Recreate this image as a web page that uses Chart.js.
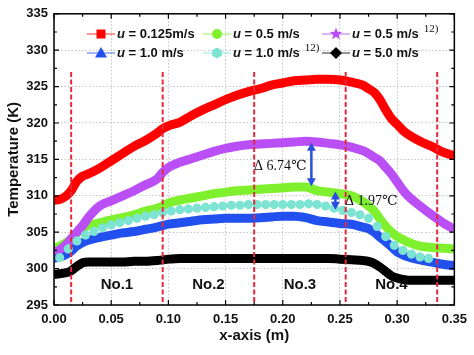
<!DOCTYPE html>
<html><head><meta charset="utf-8">
<script src="https://cdn.jsdelivr.net/npm/chart.js@4"></script>
<style>html,body{margin:0;padding:0;background:#fff}#wrap{width:474px;height:355px;position:relative}</style>
</head><body><div id="wrap"><canvas id="c" width="474" height="355"></canvas></div>
<script>
// ---- data ----
const xGrid = [0,0.005,0.01,0.015,0.02,0.025,0.03,0.04,0.05,0.06,0.07,0.08,0.09,0.095,0.10,0.11,0.12,0.13,0.14,0.15,0.16,0.17,0.18,0.19,0.20,0.21,0.22,0.23,0.24,0.25,0.26,0.27,0.275,0.28,0.285,0.29,0.295,0.30,0.305,0.31,0.32,0.33,0.34,0.35];
const u0125 = [309.4,309.5,309.9,310.7,312.0,312.7,313.0,313.8,314.8,315.8,316.8,317.6,318.6,319.2,319.6,320.1,321.0,321.8,322.5,323.2,323.8,324.3,324.7,325.2,325.5,325.8,325.9,326.0,326.0,325.9,325.6,325.2,324.7,324.2,323.2,321.8,320.6,319.8,319.0,318.4,317.5,316.8,316.0,315.5];
const u05ref = [302.2,302.6,303.2,304.1,305.0,305.9,307.0,308.6,309.3,310.0,310.7,311.5,312.3,313.2,313.9,314.6,315.1,315.6,316.1,316.5,316.8,317.0,317.1,317.2,317.3,317.4,317.5,317.4,317.2,317.0,316.7,316.2,315.8,315.3,314.8,313.9,313.0,311.9,310.8,309.9,308.6,307.4,306.3,305.4];
const u05 = [302.8,303.1,303.5,304.1,304.9,305.5,305.9,306.3,306.7,307.0,307.4,307.9,308.3,308.6,309.0,309.4,309.7,310.0,310.3,310.5,310.7,310.8,310.9,311.0,311.1,311.2,311.2,310.7,310.5,310.3,310.0,309.2,308.6,307.9,306.8,305.8,305.0,304.4,304.0,303.6,303.1,302.9,302.8,302.7];
const u10 = [301.4,301.6,301.9,302.4,303.1,303.6,303.9,304.3,304.6,304.9,305.1,305.4,305.7,305.9,306.1,306.3,306.5,306.7,306.8,306.9,306.9,306.9,307.0,307.1,307.2,307.2,307.0,306.6,306.4,306.2,306.1,305.7,305.5,305.0,304.3,303.7,303.0,302.3,301.9,301.6,301.2,300.9,300.6,300.4];
const u50 = [299.2,299.3,299.4,299.7,300.3,300.8,300.9,300.9,300.9,300.9,301.0,301.0,301.1,301.2,301.3,301.4,301.4,301.4,301.4,301.4,301.4,301.4,301.4,301.4,301.4,301.4,301.4,301.4,301.4,301.3,301.2,301.1,301.0,300.7,300.2,299.6,299.0,298.7,298.5,298.4,298.4,298.4,298.4,298.4];
const cyanX = [0.005,0.0125,0.02,0.0275,0.035,0.0425,0.05,0.0575,0.065,0.0725,0.08,0.0875,0.095,0.1025,0.11,0.1175,0.125,0.1325,0.14,0.1475,0.155,0.1625,0.17,0.1775,0.185,0.1925,0.2,0.2075,0.215,0.2225,0.23,0.2375,0.245,0.2525,0.26,0.2675,0.275,0.2825,0.29,0.2975,0.305,0.3125,0.32,0.3275];
const u10ref = [301.5,302.7,303.8,304.6,305.1,305.6,306.0,306.3,306.6,306.9,307.2,307.4,307.7,307.9,308.1,308.2,308.3,308.4,308.5,308.6,308.7,308.7,308.8,308.8,308.8,308.8,308.8,308.8,308.8,308.9,308.8,308.6,308.3,308.0,307.7,307.4,306.9,305.8,304.4,303.2,302.5,302.0,301.6,301.4];
const xTicks = [0,0.05,0.10,0.15,0.20,0.25,0.30,0.35];
const yTicks = [295,300,305,310,315,320,325,330,335];
const zoneLines = [0.015,0.095,0.175,0.255,0.335];
const zoneLabels = ['No.1','No.2','No.3','No.4'];
const zoneLabelX = [0.055,0.135,0.215,0.295];
const legendItems = [
  {text:' = 0.125m/s', sup:'', color:'#ff0000', marker:'square'},
  {text:' = 0.5 m/s', sup:'', color:'#7ff02e', marker:'circle'},
  {text:' = 0.5 m/s', sup:'12)', color:'#b94ff5', marker:'star'},
  {text:' = 1.0 m/s', sup:'', color:'#2150ee', marker:'triangle'},
  {text:' = 1.0 m/s', sup:'12)', color:'#7de3d3', marker:'hex'},
  {text:' = 5.0 m/s', sup:'', color:'#000000', marker:'diamond'}
];
const deltas = [
  {x:0.225, from:317.3, to:311.3, label:'Δ 6.74℃', lx:0.1748, ly:314.0},
  {x:0.246, from:310.6, to:308.1, label:'Δ 1.97℃', lx:0.2545, ly:309.3}
];

const pts = (xs, ys) => xs.map((x,i)=>({x:x, y:ys[i]}));
const SANS = '"Liberation Sans", Arial, sans-serif';
const SERIF = '"Liberation Serif", "DejaVu Serif", "Noto Sans CJK SC", serif';

function lineDs(label, ys, color, order){
  return {label, data: pts(xGrid, ys), borderColor: color, backgroundColor: color,
    borderWidth: 9, pointRadius: 0, showLine: true, fill: false,
    cubicInterpolationMode: 'monotone', order};
}

function drawMarker(ctx, type, x, y, color){
  ctx.save(); ctx.fillStyle = color; ctx.beginPath();
  if (type==='square'){ ctx.rect(x-4.5,y-4.5,9,9); }
  else if (type==='circle'){ ctx.arc(x,y,5,0,Math.PI*2); }
  else if (type==='triangle'){ ctx.moveTo(x,y-6); ctx.lineTo(x+6,y+4.5); ctx.lineTo(x-6,y+4.5); ctx.closePath(); }
  else if (type==='diamond'){ ctx.moveTo(x,y-6); ctx.lineTo(x+6,y); ctx.lineTo(x,y+6); ctx.lineTo(x-6,y); ctx.closePath(); }
  else if (type==='hex'){ for(let k=0;k<6;k++){const a=Math.PI/6+k*Math.PI/3; const px=x+5.5*Math.cos(a), py=y+5.5*Math.sin(a); k?ctx.lineTo(px,py):ctx.moveTo(px,py);} ctx.closePath(); }
  else if (type==='star'){ for(let k=0;k<10;k++){const r=k%2?2.8:6.5; const a=-Math.PI/2+k*Math.PI/5; const px=x+r*Math.cos(a), py=y+r*Math.sin(a); k?ctx.lineTo(px,py):ctx.moveTo(px,py);} ctx.closePath(); }
  ctx.fill(); ctx.restore();
}

const overlay = {
  id: 'overlay',
  afterDatasetsDraw(chart){
    const ctx = chart.ctx, xs = chart.scales.x, ys = chart.scales.y, ca = chart.chartArea;
    ctx.save();
    // dashed zone lines
    ctx.strokeStyle = '#e8283c'; ctx.lineWidth = 2; ctx.setLineDash([5,2.5]);
    zoneLines.forEach(v=>{ const px = xs.getPixelForValue(v);
      ctx.beginPath(); ctx.moveTo(px, ys.getPixelForValue(327)); ctx.lineTo(px, ca.bottom); ctx.stroke(); });
    ctx.setLineDash([]);
    // zone labels
    ctx.fillStyle = '#111'; ctx.font = 'bold 15px ' + SANS; ctx.textAlign = 'center'; ctx.textBaseline = 'middle';
    zoneLabels.forEach((t,i)=> ctx.fillText(t, xs.getPixelForValue(zoneLabelX[i]), ys.getPixelForValue(297.8)));
    // delta arrows
    ctx.strokeStyle = '#2a4fe0'; ctx.fillStyle = '#2a4fe0'; ctx.lineWidth = 2.5;
    deltas.forEach(d=>{
      const px = xs.getPixelForValue(d.x), y1 = ys.getPixelForValue(d.from), y2 = ys.getPixelForValue(d.to);
      ctx.beginPath(); ctx.moveTo(px, y1+6); ctx.lineTo(px, y2-6); ctx.stroke();
      ctx.beginPath(); ctx.moveTo(px, y1); ctx.lineTo(px+4.5, y1+8); ctx.lineTo(px-4.5, y1+8); ctx.closePath(); ctx.fill();
      ctx.beginPath(); ctx.moveTo(px, y2); ctx.lineTo(px+4.5, y2-8); ctx.lineTo(px-4.5, y2-8); ctx.closePath(); ctx.fill();
    });
    ctx.fillStyle = '#111'; ctx.font = '14px ' + SERIF; ctx.textAlign = 'left';
    deltas.forEach(d=> ctx.fillText(d.label, xs.getPixelForValue(d.lx), ys.getPixelForValue(d.ly)));
    // frame
    ctx.strokeStyle = '#000'; ctx.lineWidth = 1.5;
    ctx.strokeRect(ca.left, ca.top, ca.right-ca.left, ca.bottom-ca.top);
    // inward ticks
    ctx.lineWidth = 1.2;
    for (let v=0; v<=0.3501; v+=0.025){
      const px = xs.getPixelForValue(v), L = (Math.round(v/0.025)%2===0)?5:3;
      ctx.beginPath(); ctx.moveTo(px, ca.bottom); ctx.lineTo(px, ca.bottom-L); ctx.moveTo(px, ca.top); ctx.lineTo(px, ca.top+L); ctx.stroke();
    }
    for (let v=295; v<=335.01; v+=2.5){
      const py = ys.getPixelForValue(v), L = (Math.round((v-295)/2.5)%2===0)?5:3;
      ctx.beginPath(); ctx.moveTo(ca.left, py); ctx.lineTo(ca.left+L, py); ctx.moveTo(ca.right, py); ctx.lineTo(ca.right-L, py); ctx.stroke();
    }
    // legend
    const colX = [87, 203, 322], rowY = [34, 53];
    legendItems.forEach((it,i)=>{
      const lx = colX[i%3], ly = rowY[Math.floor(i/3)];
      ctx.strokeStyle = it.color; ctx.globalAlpha = 0.7; ctx.lineWidth = 1.2;
      ctx.beginPath(); ctx.moveTo(lx, ly); ctx.lineTo(lx+28, ly); ctx.stroke();
      ctx.globalAlpha = 1;
      drawMarker(ctx, it.marker, lx+14, ly, it.color);
      let tx = lx + 30;
      ctx.fillStyle = '#111'; ctx.textAlign = 'left'; ctx.textBaseline = 'middle';
      ctx.font = 'italic bold 13px ' + SANS; ctx.fillText('u', tx, ly); tx += ctx.measureText('u').width;
      ctx.font = 'bold 13px ' + SANS; ctx.fillText(it.text, tx, ly); tx += ctx.measureText(it.text).width;
      if (it.sup){ ctx.font = '11px ' + SERIF; ctx.fillText(it.sup, tx+5, ly-5); }
    });
    ctx.restore();
  }
};

new Chart(document.getElementById('c'), {
  type: 'line',
  data: { datasets: [
    {label:'u = 1.0 m/s 12)', data: pts(cyanX, u10ref), showLine:false, pointRadius:4.6, pointStyle:'circle',
      pointBackgroundColor:'#7de3d3', pointBorderColor:'#7de3d3', pointBorderWidth:0, order:0},
    lineDs('u = 0.5 m/s 12)', u05ref, '#b94ff5', 1),
    lineDs('u = 0.125m/s', u0125, '#ff0000', 2),
    lineDs('u = 0.5 m/s', u05, '#7ff02e', 3),
    lineDs('u = 1.0 m/s', u10, '#2150ee', 4),
    lineDs('u = 5.0 m/s', u50, '#000000', 5)
  ]},
  options: {
    responsive: false, devicePixelRatio: 1, animation: false,
    layout: { padding: { top: 9, right: 16, left: 0, bottom: 0 } },
    plugins: { legend: { display: false }, tooltip: { enabled: false } },
    scales: {
      x: { type: 'linear', min: 0, max: 0.35,
        afterBuildTicks: s => { s.ticks = xTicks.map(v=>({value:v})); },
        afterFit: s => { s.height = 50; },
        ticks: { callback: v => Number(v).toFixed(2), font: { family: SANS, size: 13, weight: 'bold' }, color: '#111', padding: 7, maxRotation: 0 },
        grid: { color: '#c4c4c4', lineWidth: 1, drawTicks: false },
        border: { display: false, dash: [1.5, 2] },
        title: { display: true, text: 'x-axis (m)', font: { family: SANS, size: 15, weight: 'bold' }, color: '#111', padding: { top: 4, bottom: 10 } } },
      y: { type: 'linear', min: 295, max: 335,
        afterBuildTicks: s => { s.ticks = yTicks.map(v=>({value:v})); },
        afterFit: s => { s.width = 54; },
        ticks: { font: { family: SANS, size: 13, weight: 'bold' }, color: '#111', padding: 6 },
        grid: { color: '#c4c4c4', lineWidth: 1, drawTicks: false },
        border: { display: false, dash: [1.5, 2] },
        title: { display: true, text: 'Temperature (K)', font: { family: SANS, size: 15, weight: 'bold' }, color: '#111', padding: { top: 5, bottom: 4 } } }
    }
  },
  plugins: [overlay]
});
</script></body></html>
